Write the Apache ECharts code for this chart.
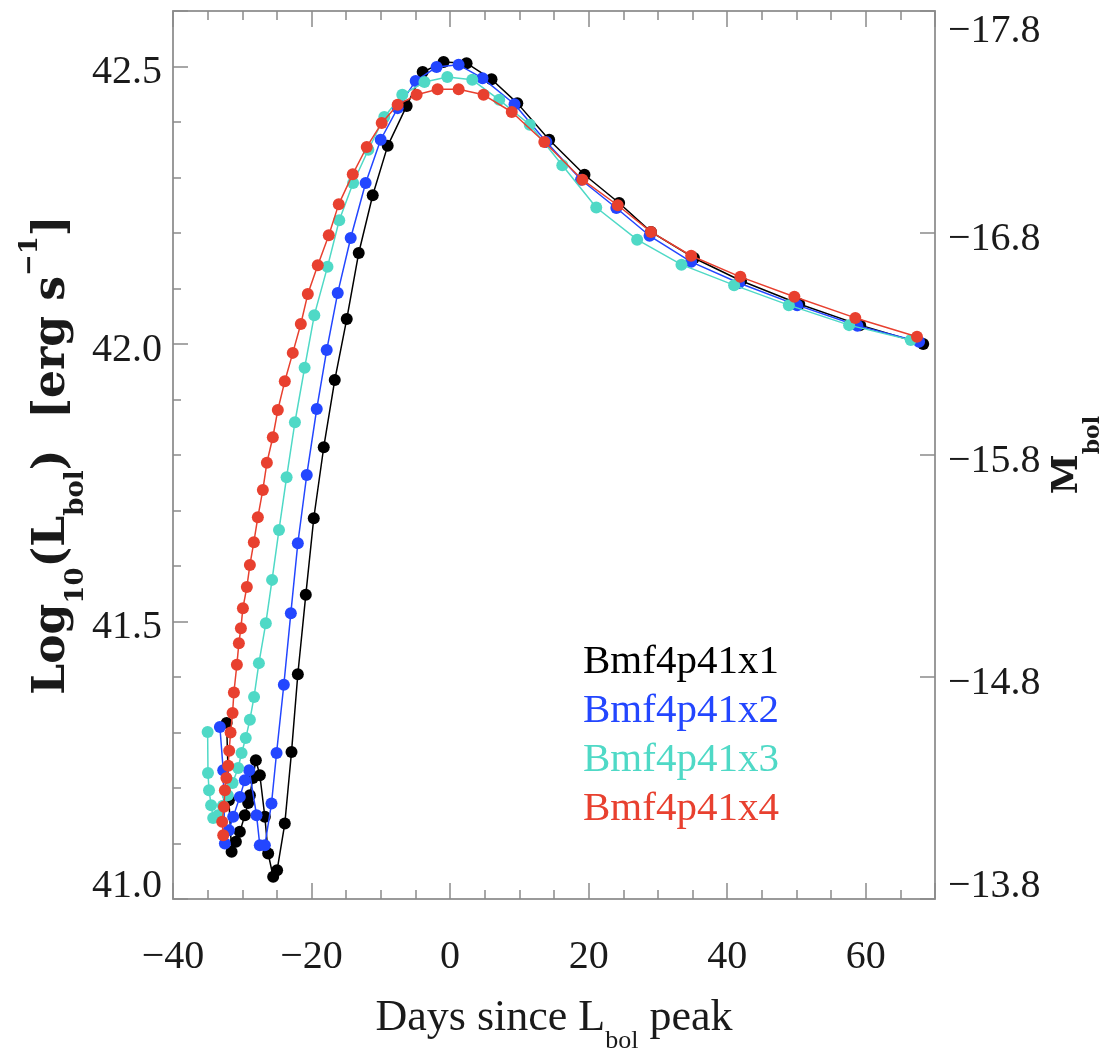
<!DOCTYPE html>
<html>
<head>
<meta charset="utf-8">
<title>Bolometric light curves</title>
<script src="https://cdn.jsdelivr.net/npm/echarts@6/dist/echarts.min.js"></script>
<style>
  html, body { margin: 0; padding: 0; background: #ffffff; overflow: hidden; }
  #chart { width: 1110px; height: 1052px; }
</style>
</head>
<body>
<div id="chart"></div>
<script>
// Model names and colours
const MODEL_NAMES = ['Bmf4p41x1', 'Bmf4p41x2', 'Bmf4p41x3', 'Bmf4p41x4'];
const MODEL_COLORS = ['#000000', '#2346ff', '#4fd9c6', '#e8402f'];

// Days since bolometric peak, and log10 L_bol [erg/s], per model
const DAYS_X1 = [-32.26, -31.93, -31.54, -30.92, -30.35, -29.63, -29.15, -28.90, -28.47, -28.04,
  -27.46, -26.74, -26.26, -25.54, -24.97, -23.86, -22.89, -21.98, -20.83, -19.68,
  -18.24, -16.65, -14.92, -13.19, -11.17, -9.01, -6.27, -3.96, -0.94, 2.38,
  5.98, 9.7, 14.3, 19.4, 24.4, 29.0, 35.2, 42.0, 50.4, 59.2, 68.3];
const LOGL_X1 = [41.317, 41.178, 41.085, 41.103, 41.121, 41.151, 41.173, 41.187, 41.218, 41.250,
  41.223, 41.148, 41.082, 41.040, 41.052, 41.136, 41.265, 41.405, 41.548, 41.686,
  41.814, 41.935, 42.045, 42.164, 42.268, 42.357, 42.429, 42.490, 42.508, 42.506,
  42.477, 42.434, 42.368, 42.305, 42.254, 42.202, 42.155, 42.114, 42.072, 42.034, 42.000];

const DAYS_X2 = [-33.23, -32.75, -32.51, -31.93, -31.31, -30.35, -29.63, -29.00,
  -27.94, -27.47, -26.74, -25.78, -25.05, -24.00, -22.99, -21.98,
  -20.69, -19.25, -17.81, -16.22, -14.35, -12.19, -10.02, -7.57,
  -4.97, -1.95, 1.23, 4.68, 9.3, 13.9, 18.9, 24.0, 28.8, 34.8, 41.7, 50.1, 58.8, 67.7];
const LOGL_X2 = [41.310, 41.232, 41.100, 41.124, 41.148, 41.184, 41.214, 41.232,
  41.151, 41.097, 41.097, 41.172, 41.263, 41.386, 41.515, 41.641,
  41.764, 41.883, 41.989, 42.092, 42.191, 42.290, 42.368, 42.425,
  42.474, 42.499, 42.503, 42.479, 42.432, 42.364, 42.296, 42.245, 42.195, 42.148, 42.110, 42.070, 42.033, 42.004];

const DAYS_X3 = [-35.00, -34.95, -34.80, -34.50, -34.20, -33.50, -32.80, -32.10, -31.40, -30.60,
  -30.10, -29.50, -28.90, -28.30, -27.60, -26.60, -25.70, -24.70, -23.60, -22.40,
  -21.00, -19.60, -17.70, -16.00, -14.00, -11.80, -9.50, -6.90, -3.70, -0.40,
  3.20, 7.1, 11.5, 16.2, 21.1, 27.0, 33.4, 41.0, 48.9, 57.6, 66.5];
const LOGL_X3 = [41.301, 41.227, 41.196, 41.169, 41.146, 41.151, 41.168, 41.187, 41.209, 41.236,
  41.263, 41.290, 41.323, 41.364, 41.425, 41.497, 41.575, 41.665, 41.760, 41.859,
  41.957, 42.052, 42.139, 42.223, 42.290, 42.350, 42.409, 42.449, 42.472, 42.481,
  42.476, 42.440, 42.395, 42.322, 42.246, 42.188, 42.143, 42.106, 42.070, 42.034, 42.007];

const DAYS_X4 = [-32.75, -32.90, -32.65, -32.51, -32.29, -32.03, -31.89, -31.69, -31.40, -31.21,
  -30.78, -30.49, -30.20, -29.91, -29.34, -28.90, -28.33, -27.75, -27.03, -26.45,
  -25.59, -24.87, -23.86, -22.71, -21.55, -20.54, -19.10, -17.51, -16.07, -14.05,
  -12.03, -9.87, -7.57, -4.83, -1.80, 1.23, 4.83, 8.9, 13.6, 19.1,
  24.2, 29.0, 34.8, 41.9, 49.7, 58.5, 67.4];
const LOGL_X4 = [41.115, 41.139, 41.166, 41.196, 41.218, 41.240, 41.267, 41.300, 41.335, 41.372,
  41.422, 41.461, 41.488, 41.524, 41.562, 41.602, 41.643, 41.688, 41.737, 41.786,
  41.832, 41.881, 41.933, 41.984, 42.036, 42.090, 42.142, 42.196, 42.252, 42.306,
  42.355, 42.398, 42.431, 42.449, 42.459, 42.459, 42.449, 42.418, 42.364, 42.296,
  42.250, 42.202, 42.159, 42.121, 42.085, 42.047, 42.013];

// Axis ranges and tick steps
const DAY_RANGE = [-40, 70];
const DAY_STEP = 20;
const LOGL_RANGE = [41.0, 42.6];
const LOGL_STEP = 0.5;
const MAG_TOP = -17.8;      // M_bol at the top of the frame
const MAG_SPAN = 4;         // magnitudes covered by the frame (1.6 dex * 2.5)

const SERIES_DAYS = [DAYS_X1, DAYS_X2, DAYS_X3, DAYS_X4];
const SERIES_LOGL = [LOGL_X1, LOGL_X2, LOGL_X3, LOGL_X4];

const SERIF = '"Liberation Serif", "DejaVu Serif", serif';
const TITLE_SERIF = '"DejaVu Serif", "Liberation Serif", serif';
const FRAME = '#9a9a9a';
const TICK = '#8a8a8a';
const INK = '#1a1a1a';

const minus = s => s.replace('-', '\u2212');
const tickStyle = { color: TICK, width: 1.5 };

// Tick-label text styles: end labels sit inside the frame, middle ones slightly below their tick
const tickRich = {
  m: { fontFamily: SERIF, fontSize: 40, color: INK, lineHeight: 40, padding: [12, 0, 0, 0] },
  t: { fontFamily: SERIF, fontSize: 40, color: INK, lineHeight: 40, padding: [0, 0, 0, 0] },
  b: { fontFamily: SERIF, fontSize: 40, color: INK, lineHeight: 26 }
};

const chart = echarts.init(document.getElementById('chart'), null, { renderer: 'canvas' });

const series = MODEL_NAMES.map((name, i) => ({
  name: name,
  type: 'line',
  xAxisIndex: 0,
  yAxisIndex: 0,
  data: SERIES_DAYS[i].map((d, k) => [d, SERIES_LOGL[i][k]]),
  symbol: 'circle',
  symbolSize: 12,
  showSymbol: true,
  lineStyle: { color: MODEL_COLORS[i], width: 1.5 },
  itemStyle: { color: MODEL_COLORS[i] },
  emphasis: { disabled: true },
  animation: false,
  z: 2 + i
}));

const nameRich = (family, size, weight) => ({
  n: { fontFamily: family, fontWeight: weight, fontSize: size, lineHeight: 72, verticalAlign: 'middle', color: INK },
  s: { fontFamily: family, fontWeight: weight, fontSize: Math.round(size * 0.6), lineHeight: Math.round(size * 0.6), verticalAlign: 'bottom', color: INK },
  p: { fontFamily: family, fontWeight: weight, fontSize: Math.round(size * 0.6), lineHeight: Math.round(size * 0.6), verticalAlign: 'top', color: INK }
});

const option = {
  backgroundColor: '#ffffff',
  animation: false,
  grid: { left: 173, right: 175, top: 11, bottom: 153, containLabel: false, outerBoundsMode: 'none' },
  legend: {
    orient: 'vertical',
    left: 578,
    top: 638,
    padding: 0,
    itemGap: 0,
    itemWidth: 0,
    itemHeight: 10,
    icon: 'none',
    selectedMode: false,
    textStyle: { fontFamily: SERIF, fontSize: 41, lineHeight: 49 },
    data: MODEL_NAMES.map((n, i) => ({ name: n, icon: 'none', textStyle: { color: MODEL_COLORS[i] } }))
  },
  xAxis: [
    {
      type: 'value',
      position: 'bottom',
      min: DAY_RANGE[0],
      max: DAY_RANGE[1],
      interval: DAY_STEP,
      axisLine: { show: true, onZero: false, lineStyle: { color: FRAME, width: 2 } },
      axisTick: { show: true, inside: true, length: 16, lineStyle: tickStyle },
      minorTick: { show: true, splitNumber: 4, length: 9, lineStyle: tickStyle },
      splitLine: { show: false },
      axisLabel: {
        margin: 38,
        fontFamily: SERIF,
        fontSize: 40,
        color: INK,
        formatter: v => (v % DAY_STEP === 0 && v < DAY_RANGE[1]) ? minus(String(v)) : ''
      },
      name: '{n|Days since L}{s|bol}{n| peak}',
      nameLocation: 'middle',
      nameGap: 83,
      nameMoveOverlap: false,
      nameTextStyle: { fontFamily: SERIF, fontSize: 44, color: INK, lineHeight: 72, rich: nameRich(SERIF, 44, 'normal') }
    },
    {
      type: 'value',
      position: 'top',
      min: DAY_RANGE[0],
      max: DAY_RANGE[1],
      interval: DAY_STEP,
      axisLine: { show: true, onZero: false, lineStyle: { color: FRAME, width: 2 } },
      axisTick: { show: true, inside: true, length: 16, lineStyle: tickStyle },
      minorTick: { show: true, splitNumber: 4, length: 9, lineStyle: tickStyle },
      splitLine: { show: false },
      axisLabel: { show: false }
    }
  ],
  yAxis: [
    {
      type: 'value',
      position: 'left',
      min: LOGL_RANGE[0],
      max: LOGL_RANGE[1],
      interval: LOGL_STEP,
      axisLine: { show: true, onZero: false, lineStyle: { color: FRAME, width: 2 } },
      axisTick: { show: true, inside: true, length: 15, lineStyle: tickStyle },
      minorTick: { show: true, splitNumber: 5, length: 8, lineStyle: tickStyle },
      splitLine: { show: false },
      axisLabel: {
        margin: 11,
        fontFamily: SERIF,
        fontSize: 40,
        color: INK,
        verticalAlignMinLabel: 'bottom',
        rich: tickRich,
        formatter: v => {
          const k = v / LOGL_STEP;
          if (Math.abs(k - Math.round(k)) > 1e-6) return '';
          const style = Math.abs(v - LOGL_RANGE[0]) < 1e-6 ? 'b' : 'm';
          return '{' + style + '|' + v.toFixed(1) + '}';
        }
      },
      name: '{n|Log}{s|10}{n|(L}{s|bol}{n|)  [erg s}{p|\u22121}{n|]}',
      nameLocation: 'middle',
      nameGap: 84,
      nameMoveOverlap: false,
      nameTextStyle: { fontFamily: TITLE_SERIF, fontWeight: 'bold', fontSize: 44, color: INK, lineHeight: 72, rich: nameRich(TITLE_SERIF, 44, 'bold') }
    },
    {
      type: 'value',
      position: 'right',
      inverse: true,
      min: 0,
      max: MAG_SPAN,
      interval: 1,
      axisLine: { show: true, onZero: false, lineStyle: { color: FRAME, width: 2 } },
      axisTick: { show: true, inside: true, length: 15, lineStyle: tickStyle },
      minorTick: { show: false },
      splitLine: { show: false },
      axisLabel: {
        margin: 13,
        fontFamily: SERIF,
        fontSize: 40,
        color: INK,
        verticalAlignMinLabel: 'top',
        verticalAlignMaxLabel: 'bottom',
        rich: tickRich,
        formatter: v => {
          const style = v === 0 ? 't' : (v === MAG_SPAN ? 'b' : 'm');
          return '{' + style + '|' + minus((MAG_TOP + v).toFixed(1)) + '}';
        }
      },
      name: '{n|M}{s|bol}',
      nameLocation: 'middle',
      nameGap: 97,
      nameMoveOverlap: false,
      nameTextStyle: { fontFamily: TITLE_SERIF, fontWeight: 'bold', fontSize: 36, color: INK, lineHeight: 72, rich: nameRich(TITLE_SERIF, 36, 'bold') }
    }
  ],
  series: series
};

chart.setOption(option);
</script>
</body>
</html>
